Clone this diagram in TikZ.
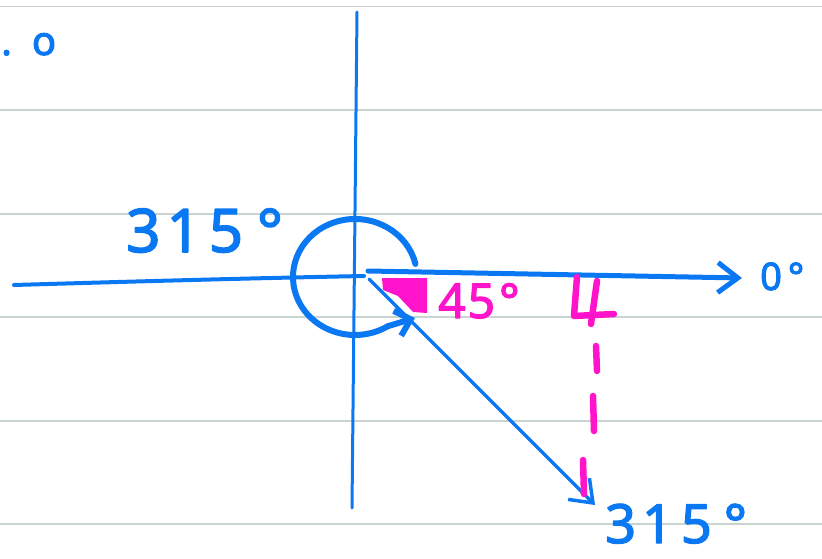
\documentclass[tikz,border=0pt]{standalone}
\usepackage{fontspec}
\setmainfont{Noto Sans}[AutoFakeBold=2.5]
\usetikzlibrary{arrows.meta}
\definecolor{pen}{HTML}{0A78F2}
\definecolor{mag}{HTML}{FF14CC}
\definecolor{rulec}{HTML}{C9D3D0}
\begin{document}
\begin{tikzpicture}[x=1pt,y=-1pt,line cap=round,line join=round,
  rulel/.style={draw=rulec,line width=1.4pt},
  axis/.style={draw=pen,line width=3pt},
  ray/.style={draw=pen,line width=5pt,-{Straight Barb[length=20pt,width=30pt]}},
  magline/.style={draw=mag,line width=6.5pt},
  lab/.style={text=pen,inner sep=0pt,anchor=base west},
  mlab/.style={text=mag,inner sep=0pt,anchor=base west}]
\useasboundingbox (0,0) rectangle (822,559);
% ruled paper
\foreach \yy in {6.5,110,214,317,421,524}
  \draw[rulel] (0,\yy) -- (822,\yy);
% axes
\coordinate (vtop) at (357,12);
\coordinate (vbot) at (352,508);
\coordinate (hleft) at (14,285);
\coordinate (hright) at (364,276);
\draw[axis] (vtop) -- (vbot);
\draw[axis,line width=4pt] (hleft) .. controls (150,281) and (260,278) .. (hright);
% 0 degree ray
\coordinate (O1) at (368,271);
\coordinate (tip0) at (742,278);
\draw[ray] (O1) -- (tip0);
% 315 degree ray
\coordinate (O2) at (369,279);
\coordinate (tip315) at (595,505);
\draw[ray,line width=3.5pt] (O2) -- (tip315);
% rotation arc
\coordinate (C) at (355,277);
\draw[draw=pen,line width=6pt,-{Straight Barb[length=14pt,width=26pt]}]
  ([shift={(-13:62 and 58)}]C) arc[start angle=-13,end angle=-302,x radius=62,y radius=58]
  -- (415,318);
% magenta angle shading
\fill[mag] (382,278) -- (427,278) -- (427,313) -- (413,312) -- (398,296) -- (383,290) -- cycle;
% right angle mark
\draw[magline] (577,277) -- (574,316) -- (614,314);
\draw[magline] (597,281) -- (591,324);
% dashed drop line
\draw[magline] (596,346) -- (597,371);
\draw[magline] (593,396) -- (594,431);
\draw[magline] (583,460) -- (584,494);
% labels
\node[lab,font=\bfseries\fontsize{60}{60}\selectfont] (t315a) at (126,252) {3\kern6pt 1\kern8pt 5\kern14pt °};
\node[lab,font=\bfseries\fontsize{54}{54}\selectfont] (t315b) at (605,543) {3\kern6pt 1\kern8pt 5\kern12pt °};
\node[mlab,font=\bfseries\fontsize{48}{48}\selectfont] (t45) at (438,318) {4\kern2pt 5\kern4pt °};
\node[lab,font=\bfseries\fontsize{38}{38}\selectfont] (t0) at (760,290) {0\kern6pt °};
\node[lab,font=\bfseries\fontsize{40}{40}\selectfont] (tcut) at (1,55) {.\kern20pt o};
\end{tikzpicture}
\end{document}
